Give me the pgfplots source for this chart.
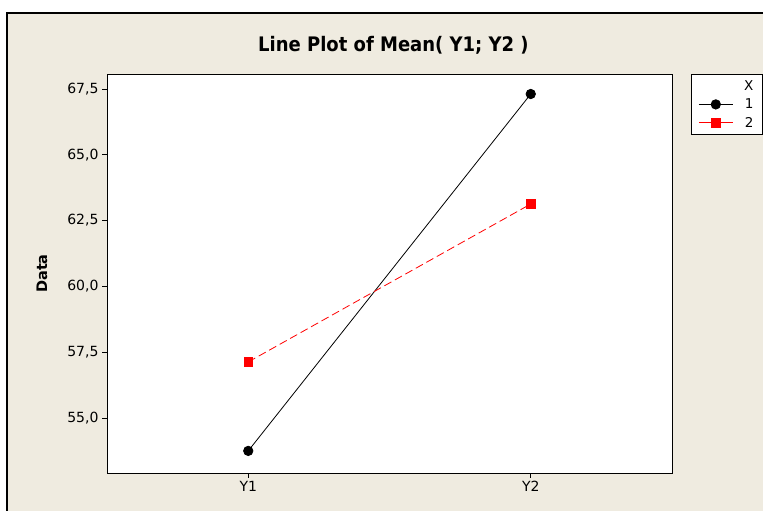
\documentclass[border=0pt]{standalone}
\usepackage{fontspec}
\setmainfont{DejaVu Sans}
\newfontfamily\condfont{DejaVu Sans Condensed}
\usepackage{pgfplots}
\pgfplotsset{compat=1.18}
\definecolor{panel}{RGB}{239,235,224}

\begin{document}
\begin{tikzpicture}
\useasboundingbox (0pt,0pt) rectangle (763pt,511pt);
\fill[panel] (7pt,-10pt) rectangle (780pt,498pt);
\draw[line width=1.2pt] (7pt,-10pt) -- (7pt,498pt) -- (780pt,498pt);
\begin{axis}[
    at={(107pt,38pt)}, anchor=south west,
    scale only axis, width=565pt, height=399pt,
    xmin=0.5, xmax=2.5, ymin=52.91, ymax=68.07,
    xtick={1,2}, xticklabels={Y1,Y2},
    ytick={55,57.5,60,62.5,65,67.5},
    yticklabel style={/pgf/number format/.cd, fixed, fixed zerofill, precision=1, use comma, assume math mode=true},
    ticklabel style={font=\fontsize{14}{16}\selectfont},
    tick align=outside, xtick pos=bottom, ytick pos=left,
    major tick length=5pt, tick style={black, line width=0.8pt},
    axis line style={line width=0.8pt},
    axis background/.style={fill=white},
    ylabel={\bfseries Data},
    ylabel style={at={(axis description cs:-0.115,0.5)}, anchor=center, font=\fontsize{14.5}{16}\selectfont},
    title={\condfont\bfseries Line Plot of Mean( Y1; Y2 )},
    title style={at={(axis description cs:0.507,1)}, anchor=base, yshift=16.7pt, font=\fontsize{20}{22}\selectfont},
    legend style={at={(axis description cs:1,1)}, anchor=north west, xshift=19pt,
        draw=black, line width=0.8pt, fill=white,
        nodes={font=\fontsize{13.5}{15}\selectfont},
        row sep=3pt, inner xsep=7pt, inner ysep=4pt,
        /tikz/every odd column/.append style={column sep=9pt}},
    legend cell align=right,
    legend image code/.code={\draw[mark repeat=2, mark phase=2, solid, #1] plot coordinates {(0pt,0pt) (17pt,0pt) (34pt,0pt)};},
    legend entries={X,1,2},
]
\addlegendimage{empty legend}
\addplot[black, line width=0.8pt, mark=*, mark size=4.7pt] coordinates {(1,53.75) (2,67.31)};
\addplot[red, line width=0.8pt, dash pattern=on 8pt off 4pt, mark=square*, mark size=4.3pt, mark options={solid}] coordinates {(1,57.13) (2,63.13)};
\end{axis}
\end{tikzpicture}
\end{document}
